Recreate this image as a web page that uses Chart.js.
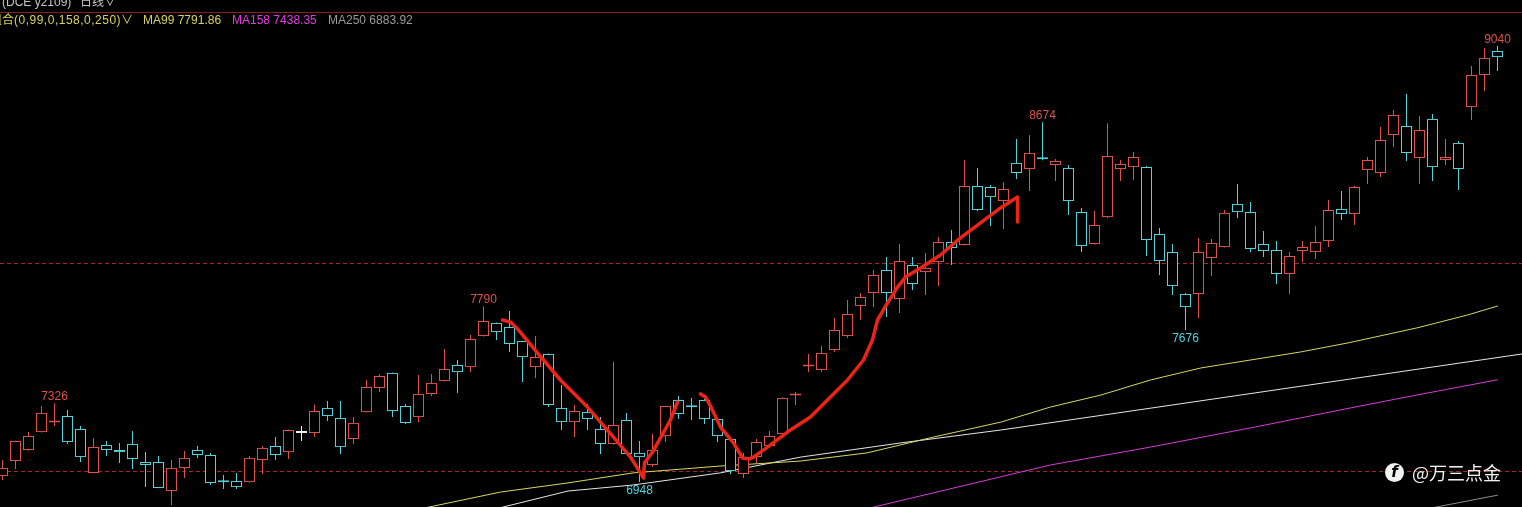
<!DOCTYPE html>
<html lang="zh">
<head>
  <meta charset="UTF-8" />
  <title>DCE y2109 日线</title>
  <script src="https://cdn.jsdelivr.net/npm/chart.js"></script>
  <style>
    body {
      margin: 0;
      background: #000;
      width: 1522px;
      height: 507px;
      overflow: hidden;
      position: relative;
      font-family: "Liberation Sans", Arial, "Noto Sans CJK SC", sans-serif;
    }
    canvas { position: absolute; left: 0; top: 0; }
    .hdr {
      position: absolute;
      white-space: nowrap;
      font-size: 12px;
      line-height: 14px;
      z-index: 2;
    }
    .cjk { font-family: "Noto Sans CJK SC", sans-serif; }
    #rule {
      position: absolute; left: 0; top: 12px;
      width: 1522px; height: 1px;
      background: #8a1f1f; z-index: 2;
    }
    #mark {
      position: absolute; left: 1385px; top: 463px;
      width: 19px; height: 19px; border-radius: 50%;
      background: #f2f2f2; color: #000;
      font: italic bold 15px/19px "DejaVu Sans", sans-serif;
      text-align: center; z-index: 2;
    }
    #brand {
      position: absolute; left: 1412px; top: 460px;
      color: #f2f2f2; font-size: 18px; line-height: 24px;
      font-family: "Noto Sans CJK SC", sans-serif; z-index: 2;
    }
  </style>
</head>
<body>
  <div class="hdr" style="top:-5px;left:2px;color:#c4c4c4">(DCE y2109)</div>
  <div class="hdr cjk" style="top:-6px;left:80px;color:#c4c4c4">日线∨</div>
  <div id="rule"></div>
  <div class="hdr cjk" style="top:12px;left:-10px;color:#d8d25a">组合<span style="font-family:'Liberation Sans',Arial;letter-spacing:0.5px">(0,99,0,158,0,250)</span>∨</div>
  <div class="hdr" style="top:13px;left:143px;color:#d8d25a">MA99 7791.86</div>
  <div class="hdr" style="top:13px;left:232px;color:#e03ce0">MA158 7438.35</div>
  <div class="hdr" style="top:13px;left:328px;color:#9a9a9a">MA250 6883.92</div>
  <div id="mark">f</div>
  <div id="brand">@万三点金</div>

  <canvas id="kline" width="1522" height="507"></canvas>

  <script>
    const opens = [
      6976, 7048, 7101, 7187, 7233, 7264, 7202, 6991, 7125, 7101,
      7130, 7043, 7043, 6904, 7015, 7101, 7077, 6949, 6952, 6947,
      7053, 7120, 7091, 7183, 7183, 7303, 7255, 7154, 7283, 7399,
      7471, 7312, 7259, 7370, 7432, 7509, 7499, 7648, 7711, 7691,
      7624, 7499, 7562, 7303, 7235, 7283, 7202, 7130, 7245, 7087,
      7029, 7168, 7341, 7309, 7341, 7250, 7154, 6986, 7067, 7120,
      7178, 7363, 7502, 7485, 7581, 7648, 7792, 7855, 7965, 7826,
      7989, 7955, 8003, 8099, 8085, 8368, 8363, 8296, 8479, 8450,
      8500, 8469, 8455, 8243, 8090, 8219, 8450, 8459, 8459, 8138,
      8051, 7850, 7850, 8023, 8075, 8282, 8243, 8090, 8061, 7946,
      8056, 8051, 8104, 8258, 8234, 8445, 8431, 8613, 8656, 8503,
      8690, 8493, 8575, 8747, 8901, 9016
    ];
    const highs = [
      7053, 7146, 7187, 7312, 7326, 7293, 7216, 7159, 7144, 7135,
      7192, 7091, 7072, 7053, 7096, 7120, 7087, 6981, 6991, 7072,
      7120, 7163, 7199, 7216, 7318, 7336, 7336, 7259, 7437, 7466,
      7473, 7322, 7461, 7466, 7586, 7533, 7653, 7790, 7713, 7768,
      7626, 7648, 7564, 7413, 7317, 7322, 7259, 7523, 7279, 7144,
      7178, 7314, 7360, 7351, 7346, 7252, 7156, 7087, 7154, 7192,
      7353, 7379, 7562, 7600, 7735, 7821, 7855, 7965, 8027, 8090,
      8027, 8047, 8123, 8157, 8493, 8455, 8373, 8387, 8594, 8613,
      8674, 8498, 8469, 8263, 8248, 8670, 8493, 8531, 8464, 8167,
      8090, 7855, 8119, 8114, 8253, 8378, 8291, 8152, 8104, 8051,
      8104, 8176, 8301, 8344, 8368, 8507, 8651, 8733, 8810, 8704,
      8714, 8594, 8584, 8944, 9031, 9040
    ];
    const lows = [
      6957, 7010, 7098, 7185, 7216, 7130, 7043, 6989, 7072, 7039,
      7010, 6923, 6917, 6837, 6967, 7063, 6933, 6914, 6914, 6945,
      6986, 7053, 7058, 7144, 7163, 7240, 7082, 7130, 7281, 7379,
      7259, 7226, 7235, 7360, 7430, 7375, 7475, 7646, 7629, 7571,
      7427, 7447, 7307, 7197, 7163, 7197, 7082, 7128, 7080, 6948,
      7019, 7139, 7250, 7245, 7226, 7139, 6986, 6967, 7039, 7118,
      7176, 7317, 7475, 7475, 7571, 7639, 7725, 7787, 7739, 7759,
      7869, 7845, 7888, 7989, 8083, 8248, 8176, 8162, 8402, 8344,
      8492, 8392, 8229, 8051, 8088, 8215, 8392, 8397, 8032, 7941,
      7845, 7676, 7735, 7936, 8073, 8215, 8051, 8027, 7898, 7850,
      8003, 8018, 8075, 8205, 8181, 8378, 8411, 8555, 8488, 8378,
      8392, 8469, 8349, 8685, 8824, 8920
    ];
    const closes = [
      7015, 7144, 7168, 7279, 7236, 7139, 7067, 7115, 7101, 7091,
      7058, 7029, 6919, 7015, 7063, 7077, 6943, 6946, 6923, 7063,
      7111, 7077, 7197, 7183, 7288, 7264, 7115, 7231, 7403, 7456,
      7288, 7231, 7370, 7423, 7490, 7475, 7634, 7720, 7667, 7610,
      7547, 7547, 7317, 7235, 7288, 7250, 7130, 7221, 7082, 7067,
      7101, 7312, 7274, 7306, 7250, 7168, 7000, 7067, 7139, 7168,
      7351, 7366, 7505, 7567, 7677, 7754, 7835, 7941, 7855, 8008,
      7898, 7975, 8099, 8071, 8368, 8253, 8315, 8354, 8431, 8527,
      8497, 8488, 8296, 8080, 8181, 8512, 8474, 8507, 8109, 8008,
      7888, 7787, 8051, 8095, 8239, 8243, 8066, 8056, 7946, 8032,
      8075, 8099, 8253, 8234, 8363, 8493, 8589, 8709, 8527, 8637,
      8459, 8507, 8450, 8901, 8983, 8987
    ];

    // candles whose high / low gets a number printed next to it
    const highMarks = [4, 37, 80, 115];
    const lowMarks = [49, 91];
    // dashed price levels
    const gridLevels = [7000, 8000];

    // moving averages, read at a few candle positions: [candle index, price]
    const ma99 = [
      [32.1, 6818], [38.3, 6899], [43.5, 6943], [48.5, 6991], [55.2, 7024],
      [61.4, 7048], [66.5, 7087], [71.6, 7163], [76.8, 7235], [80.6, 7307],
      [84.5, 7365], [88.3, 7437], [92.2, 7495], [99.8, 7571], [103.5, 7615],
      [108.8, 7687], [112.7, 7749], [115, 7792]
    ];
    const ma158 = [
      [66.4, 6818], [80.6, 7029], [88.3, 7115], [96, 7207], [103.7, 7303],
      [108.8, 7365], [115, 7438]
    ];
    const ma250 = [[109.1, 6813], [115, 6884]];
    const whiteLine = [
      [37.9, 6818], [43.5, 6904], [48.5, 6933], [55.2, 6991], [61.4, 7067],
      [69.1, 7135], [76.8, 7197], [103.7, 7442], [116.9, 7562]
    ];

    // hand drawn red strokes
    const strokeA = [
      [38.46, 7725], [39.08, 7715], [39.62, 7682], [41.15, 7567], [42.92, 7437],
      [45.0, 7307], [47.0, 7163], [48.31, 7067], [49.31, 6967], [49.38, 7039],
      [50.0, 7091], [51.38, 7245], [51.92, 7331]
    ];
    const strokeB = [
      [53.69, 7370], [54.08, 7355], [54.46, 7312], [55.23, 7211], [56.23, 7135],
      [56.92, 7063], [57.46, 7058], [57.77, 7067], [58.85, 7115], [60.38, 7187],
      [62.15, 7259], [63.46, 7341], [65.0, 7437], [66.23, 7533], [66.92, 7629],
      [67.31, 7725], [68.08, 7807], [68.85, 7883], [69.46, 7931], [70.62, 7975],
      [72.15, 8037], [73.69, 8119], [75.23, 8191], [76.77, 8263], [78.08, 8315],
      [78.08, 8195]
    ];

    const UP = '#de514b';
    const DOWN = '#52d3dc';
    const FLAT = '#f2f2f2';
    const colorOf = i => closes[i] > opens[i] ? UP : (closes[i] < opens[i] ? DOWN : FLAT);
    const idx = opens.map((_, i) => i);
    const pts = arr => arr.map(([x, y]) => ({ x, y }));

    const lineDs = (data, color, width, order) => ({
      type: 'line',
      data: pts(data),
      borderColor: color,
      borderWidth: width,
      pointRadius: 0,
      tension: 0,
      borderJoinStyle: 'round',
      borderCapStyle: 'round',
      order: order
    });

    const gridPlugin = {
      id: 'levels',
      beforeDatasetsDraw(chart) {
        const { ctx, chartArea, scales: { y } } = chart;
        ctx.save();
        ctx.strokeStyle = '#a82626';
        ctx.lineWidth = 1;
        ctx.setLineDash([4, 3]);
        gridLevels.forEach(v => {
          const py = Math.round(y.getPixelForValue(v)) + 0.5;
          ctx.beginPath();
          ctx.moveTo(chartArea.left, py);
          ctx.lineTo(chartArea.right, py);
          ctx.stroke();
        });
        ctx.restore();
      }
    };

    const markPlugin = {
      id: 'marks',
      afterDatasetsDraw(chart) {
        const { ctx, scales: { x, y } } = chart;
        ctx.save();
        ctx.font = '12px "Liberation Sans", Arial, sans-serif';
        ctx.textAlign = 'center';
        ctx.textBaseline = 'alphabetic';
        ctx.fillStyle = UP;
        highMarks.forEach(i => {
          ctx.fillText(String(highs[i]), x.getPixelForValue(i), y.getPixelForValue(highs[i]) - 3);
        });
        ctx.fillStyle = DOWN;
        lowMarks.forEach(i => {
          ctx.fillText(String(lows[i]), x.getPixelForValue(i), y.getPixelForValue(lows[i]) + 12);
        });
        ctx.restore();
      }
    };

    new Chart(document.getElementById('kline'), {
      type: 'bar',
      data: {
        datasets: [
          lineDs(strokeA, '#ec2418', 3.5, 0),
          lineDs(strokeB, '#ec2418', 3.5, 0),
          {
            label: 'body',
            data: idx.map(i => ({ x: i, y: [Math.min(opens[i], closes[i]), Math.max(opens[i], closes[i])] })),
            backgroundColor: '#000',
            borderColor: idx.map(colorOf),
            borderWidth: 1,
            borderSkipped: false,
            inflateAmount: 0,
            minBarLength: 2,
            maxBarThickness: 11,
            grouped: false,
            categoryPercentage: 1,
            barPercentage: 1,
            order: 1
          },
          {
            label: 'wick',
            data: idx.map(i => ({ x: i, y: [lows[i], highs[i]] })),
            backgroundColor: idx.map(colorOf),
            borderWidth: 0,
            inflateAmount: 0,
            maxBarThickness: 1,
            grouped: false,
            categoryPercentage: 1,
            barPercentage: 1,
            order: 2
          },
          lineDs(ma99, '#d8d860', 1, 3),
          lineDs(whiteLine, '#e6e6e6', 1, 3),
          lineDs(ma158, '#d63cd6', 1, 3),
          lineDs(ma250, '#8c8c8c', 1, 3)
        ]
      },
      options: {
        responsive: false,
        animation: false,
        devicePixelRatio: 1,
        layout: { padding: 0 },
        plugins: {
          legend: { display: false },
          tooltip: { enabled: false }
        },
        scales: {
          x: {
            type: 'linear',
            display: false,
            offset: false,
            min: -2.5 / 13,
            max: (1522 - 2.5) / 13
          },
          y: {
            display: false,
            min: 6827.4,
            max: 9261
          }
        }
      },
      plugins: [gridPlugin, markPlugin]
    });
  </script>
</body>
</html>
